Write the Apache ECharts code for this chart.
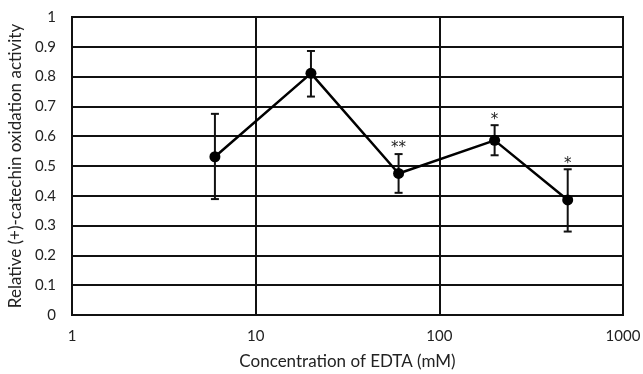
<!DOCTYPE html>
<html><head><meta charset="utf-8">
<script src="https://cdn.jsdelivr.net/npm/echarts@6/dist/echarts.min.js"></script>
<style>html,body{margin:0;padding:0;background:#fff}#c{width:643px;height:374px}</style>
</head><body><div id="c"></div>
<script>
const concentrations = [6, 20, 60, 200, 500];
const activity = [0.531, 0.811, 0.475, 0.586, 0.386];
const errLow = [0.389, 0.733, 0.410, 0.536, 0.280];
const errHigh = [0.675, 0.886, 0.540, 0.637, 0.489];
const significance = ['', '', '**', '*', '*'];
const xTitle = 'Concentration of EDTA (mM)';
const yTitle = 'Relative (+)-catechin oxidation activity';

const FONT = 'Lato, "Open Sans", sans-serif';
const chart = echarts.init(document.getElementById('c'));
const lineData = concentrations.map((x, i) => [x, activity[i]]);
const errData = concentrations.map((x, i) => [x, errLow[i], errHigh[i], significance[i]]);

chart.setOption({
  animation: false,
  grid: { left: 72, right: 20, top: 17, bottom: 59, show: true, borderColor: '#111', borderWidth: 2,
    outerBoundsMode: 'none', containLabel: false },
  xAxis: {
    type: 'log', logBase: 10, min: 1, max: 1000,
    name: xTitle, nameLocation: 'middle', nameGap: 38,
    nameTextStyle: { fontFamily: FONT, fontSize: 17, color: '#222' },
    axisLine: { lineStyle: { color: '#111', width: 2 } },
    axisTick: { show: false },
    minorTick: { show: false },
    splitLine: { show: true, lineStyle: { color: '#111', width: 2 } },
    axisLabel: { fontFamily: FONT, fontSize: 15, color: '#222', margin: 14,
      formatter: v => String(Math.round(v)) }
  },
  yAxis: {
    type: 'value', min: 0, max: 1, interval: 0.1,
    name: yTitle, nameLocation: 'middle', nameGap: 44,
    nameTextStyle: { fontFamily: FONT, fontSize: 17, color: '#222' },
    axisLine: { show: true, lineStyle: { color: '#111', width: 2 } },
    axisTick: { show: false },
    splitLine: { show: true, lineStyle: { color: '#111', width: 2 } },
    axisLabel: { fontFamily: FONT, fontSize: 15, color: '#222', margin: 16,
      formatter: v => String(Math.round(v * 10) / 10) }
  },
  series: [
    {
      type: 'custom',
      data: errData,
      z: 3,
      renderItem: function (params, api) {
        const x = api.value(0);
        const lo = api.coord([x, api.value(1)]);
        const hi = api.coord([x, api.value(2)]);
        const cap = 4;
        const st = { stroke: '#111', lineWidth: 2 };
        const children = [
          { type: 'line', shape: { x1: lo[0], y1: lo[1], x2: hi[0], y2: hi[1] }, style: st },
          { type: 'line', shape: { x1: lo[0] - cap, y1: lo[1], x2: lo[0] + cap, y2: lo[1] }, style: st },
          { type: 'line', shape: { x1: hi[0] - cap, y1: hi[1], x2: hi[0] + cap, y2: hi[1] }, style: st }
        ];
        const s = errData[params.dataIndex][3];
        if (s) {
          children.push({ type: 'text', style: { text: s, x: hi[0], y: hi[1] + 2, align: 'center', verticalAlign: 'bottom',
            fontFamily: '"DejaVu Sans", sans-serif', fontSize: 15, fill: '#222' } });
        }
        return { type: 'group', children: children };
      }
    },
    {
      type: 'line',
      data: lineData,
      z: 4,
      symbol: 'circle',
      symbolSize: 11,
      itemStyle: { color: '#000' },
      lineStyle: { color: '#000', width: 2.5 }
    }
  ]
});
</script></body></html>
